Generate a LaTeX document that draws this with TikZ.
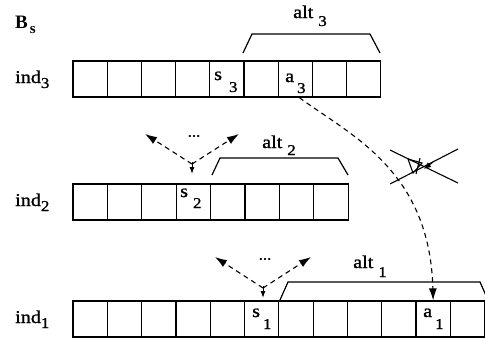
\documentclass[tikz,border=0pt]{standalone}
\usepackage{fontspec}
\setmainfont{Liberation Serif}
\newfontfamily\scanfont{Liberation Serif}[FakeBold=1.2, FakeStretch=1.12]
\usetikzlibrary{arrows.meta}
\newcommand\mainsz{\scanfont\fontsize{18}{18}\selectfont}
\newcommand\subsz{\fontsize{15}{15}\selectfont}
\newcommand\lsub[3]{\hspace{#1}\raisebox{-#2}{\subsz #3}}
\tikzset{
  cell/.style={draw, line width=1.2pt, minimum height=36pt, inner sep=0pt, anchor=center},
  lab/.style={inner sep=0pt, anchor=base west, font=\mainsz},
  brk/.style={line width=1.2pt},
  dsh/.style={line width=1.1pt, dash pattern=on 5pt off 4pt},
  bigtip/.style={-{Latex[length=12pt,width=8pt]}},
  smalltip/.style={-{Latex[length=7pt,width=5pt]}, line width=1pt},
  dotsl/.style={inner sep=0pt, font=\scanfont\subsz}
}
\begin{document}
\begin{tikzpicture}[x=1pt,y=-1pt]
\useasboundingbox (0,0) rectangle (485,349);
% rows of cells
\foreach \i in {1,...,9} \node[cell, minimum width=34.2pt] (r3c\i) at ({73+34.2*(\i-0.5)},79) {};
\foreach \i in {1,...,8} \node[cell, minimum width=34.4pt] (r2c\i) at ({73+34.4*(\i-0.5)},202) {};
\foreach \i in {1,...,12} \node[cell, minimum width=34.3pt] (r1c\i) at ({73+34.3*(\i-0.5)},319) {};
% left labels
\node[lab, font={\fontsize{19}{19}\selectfont\bfseries}] (bs) at (15,28) {B\lsub{2pt}{5pt}{\bfseries s}};
\node[lab] (ind3) at (15,83) {ind\lsub{0pt}{5pt}{3}};
\node[lab] (ind2) at (15,206) {ind\lsub{0pt}{5pt}{2}};
\node[lab] (ind1) at (15,323) {ind\lsub{0pt}{5pt}{1}};
% cell texts
\node[lab] (s3) at (214,80) {s\lsub{7pt}{12pt}{3}};
\node[lab] (a3) at (285,82) {a\lsub{3pt}{11pt}{3}};
\node[lab] (s2) at (180,197) {s\lsub{5pt}{11pt}{2}};
\node[lab] (s1) at (252,317) {s\lsub{3pt}{12pt}{1}};
\node[lab] (a1) at (423,317) {a\lsub{3pt}{12pt}{1}};
% bracket labels
\node[lab] (alt3) at (293,18) {alt\lsub{5pt}{8pt}{3}};
\node[lab] (alt2) at (262,148) {alt\lsub{5pt}{7pt}{2}};
\node[lab] (alt1) at (353,268) {alt\lsub{5pt}{9pt}{1}};
% brackets
\draw[brk] (243,53) -- (252,34) -- (370,34) -- (380,53);
\draw[brk] (212,175) -- (220,158) -- (338,158) -- (348,175);
\draw[brk] (280,300) -- (288,282) -- (480,282) -- (488,300);
% branching arrows row 2
\coordinate (j2) at (192,164);
\coordinate (l2) at (145,134);
\coordinate (rr2) at (239,134);
\coordinate (v2) at (192,174);
\draw[dsh, bigtip] (j2) -- (l2);
\draw[dsh, bigtip] (j2) -- (rr2);
\draw[smalltip] ([yshift=2pt]j2) -- (v2);
\node[dotsl] (d2) at (194,136) {...};
% branching arrows row 1
\coordinate (j1) at (263,288);
\coordinate (l1) at (215,257);
\coordinate (rr1) at (311,257);
\coordinate (v1) at (263,298);
\draw[dsh, bigtip] (j1) -- (l1);
\draw[dsh, bigtip] (j1) -- (rr1);
\draw[smalltip] ([yshift=2pt]j1) -- (v1);
\node[dotsl] (d1) at (265,259) {...};
% big dashed curve a3 -> a1
\draw[dsh, bigtip] ([xshift=4pt]r3c7.south) .. controls (350,135) and (430,170) .. (r1c11.north);
% cross-out mark
\coordinate (x1) at (390,150);
\coordinate (x2) at (458,183);
\coordinate (x3) at (390,184);
\coordinate (x4) at (458,149);
\draw[line width=1.1pt] (x1) -- (x2);
\draw[line width=1.1pt] (x3) -- (x4);
\coordinate (t1) at (408,159);
\coordinate (t2) at (422,163);
\coordinate (t3) at (413,173);
\draw[line width=1.1pt] (t1) -- (t2) -- (t3) -- cycle;
\coordinate (h1) at (433,162);
\coordinate (h2) at (424,169);
\draw[line width=1.1pt, -{Latex[length=7pt,width=6pt]}] (h1) -- (h2);
\coordinate (k1) at (420,158);
\coordinate (k2) at (416,174);
\draw[line width=1.1pt] (k1) -- (k2);
\end{tikzpicture}
\end{document}
